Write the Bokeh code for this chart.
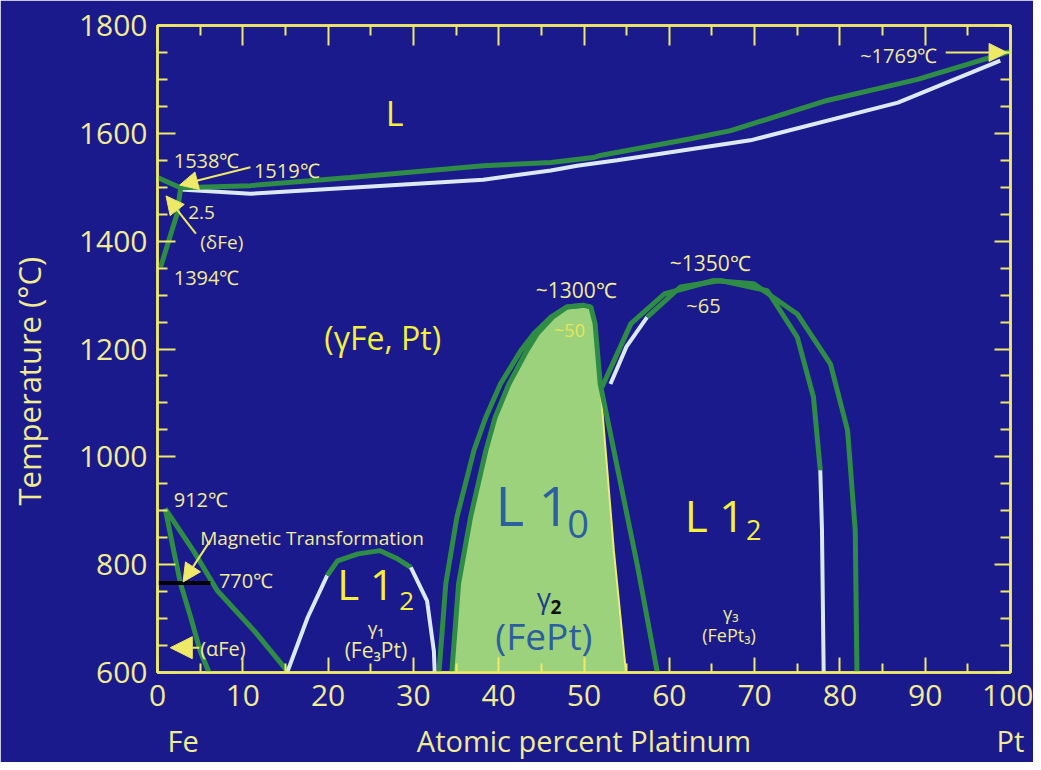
from bokeh.plotting import figure
from bokeh.models import Range1d, FixedTicker, LinearAxis, Label, Arrow, NormalHead
from bokeh.embed import file_html
from bokeh.resources import INLINE

# ---------------- data: atomic % Pt  vs  temperature (°C) ----------------
liquidus_x = [0.0, 2.7, 10.9, 22.6, 38.2, 46.1, 51.1, 51.9, 62.5, 67.2, 78.5, 89.1, 99.6, 100.0]
liquidus_t = [1518, 1499, 1503, 1518, 1540, 1546, 1555, 1559, 1590, 1605, 1661, 1700, 1750, 1752]
solidus_x = [2.7, 10.9, 26.5, 38.2, 46.1, 49.2, 53.9, 69.5, 86.8, 98.8]
solidus_t = [1496, 1488, 1503, 1514, 1531, 1540, 1550, 1587, 1657, 1735]
delta_x = [0.35, 1.4, 2.3, 2.7]
delta_t = [1351, 1405, 1451, 1497]

alpha_left_x = [0.9, 1.9, 2.7, 3.9, 5.0, 6.2]
alpha_left_t = [904, 826, 765, 702, 640, 594]
alpha_right_x = [0.9, 4.2, 7.0, 11.3, 15.2]
alpha_right_t = [904, 826, 752, 678, 603]
magnetic_x = [0.0, 6.2]
magnetic_t = [766, 766]

g1_white_left_x = [15.2, 17.6, 19.9]
g1_white_left_t = [600, 702, 780]
g1_green_x = [19.9, 21.1, 23.5, 26.1, 28.0, 29.7]
g1_green_t = [780, 807, 820, 826, 812, 795]
g1_white_right_x = [29.7, 31.6, 32.4, 32.5]
g1_white_right_t = [795, 733, 640, 600]

l10_outer_x = [33.0, 33.8, 35.1, 37.1, 38.5, 40.2, 42.6, 44.1, 46.1, 48.0, 50.0, 50.8, 51.3, 51.9, 52.7, 54.3, 56.3, 58.6]
l10_outer_t = [600, 765, 888, 1012, 1074, 1135, 1197, 1228, 1259, 1278, 1281, 1278, 1247, 1135, 1074, 950, 795, 600]
l10_inner_x = [34.5, 35.3, 36.7, 38.5, 39.6, 41.2, 43.3, 44.5, 46.3, 48.0, 50.0]
l10_inner_t = [600, 765, 888, 1012, 1074, 1135, 1197, 1228, 1259, 1278, 1281]
l10_top_x = [50.8, 51.3, 51.9]
l10_top_t = [1278, 1247, 1135]
l10_edge_x = [51.9, 53.5, 54.9, 55.0]
l10_edge_t = [1135, 826, 604, 600]

g3_outer_x = [52.1, 55.5, 59.4, 65.2, 69.9, 75.0, 78.9, 80.9, 81.8, 82.0]
g3_outer_t = [1129, 1247, 1302, 1327, 1321, 1265, 1172, 1049, 863, 598]
g3_white_a_x = [53.1, 55.0, 57.4]
g3_white_a_t = [1135, 1205, 1259]
g3_inner_x = [57.4, 61.3, 66.0, 71.5, 75.0, 76.9, 77.7]
g3_inner_t = [1259, 1315, 1327, 1308, 1222, 1111, 975]
g3_white_b_x = [77.7, 77.9, 78.1]
g3_white_b_t = [975, 863, 598]

x_ticks = list(range(0, 101, 10))
x_minor = list(range(5, 100, 10))
y_ticks = list(range(600, 1801, 200))
y_minor = [t for t in range(600, 1801, 50) if t % 200 != 0]
name_ticks = [3, 50, 100]
name_labels = {3: "Fe", 50: "Atomic percent Platinum", 100: "Pt"}
y_title = "Temperature (°C)"

# ---------------- style ----------------
BG = "#1a1a8c"
GREEN = "#2f8c46"
WHITE = "#dce9f2"
FILL = "#9dd27d"
YEL = "#efe968"
TXT = "#f1eb92"
BIG = "#f4f03c"
BLUE_TXT = "#2b5f9e"
FONT = "Open Sans"

p = figure(width=1033, height=762, output_backend="svg", toolbar_location=None,
           x_range=Range1d(0, 100), y_range=Range1d(600, 1800),
           x_axis_location=None, y_axis_location=None,
           min_border_left=157, min_border_right=23, min_border_top=25, min_border_bottom=90)
p.background_fill_color = BG
p.border_fill_color = BG
p.outline_line_color = YEL
p.outline_line_width = 2.5
p.xgrid.grid_line_color = None
p.ygrid.grid_line_color = None


def make_axis(ticks, minor, tin, minin, show_labels, standoff=10):
    ax = LinearAxis(ticker=FixedTicker(ticks=ticks, minor_ticks=minor))
    ax.axis_line_color = YEL
    ax.axis_line_width = 2.5
    ax.major_tick_line_color = YEL
    ax.major_tick_line_width = 2
    ax.minor_tick_line_color = YEL
    ax.minor_tick_line_width = 2
    ax.major_tick_in = tin
    ax.major_tick_out = 0
    ax.minor_tick_in = minin
    ax.minor_tick_out = 0
    if show_labels:
        ax.major_label_text_color = TXT
        ax.major_label_text_font = FONT
        ax.major_label_text_font_size = "30px"
        ax.major_label_standoff = standoff
    else:
        ax.major_label_text_font_size = "0px"
        ax.major_label_standoff = 0
        ax.major_label_text_color = None
    return ax


xb = make_axis(x_ticks, x_minor, 15, 9, True, 12)
p.add_layout(xb, "below")
yl = make_axis(y_ticks, y_minor, 18, 10, True, 10)
# trailing no-break spaces push the centred title towards the bottom, as in the original
yl.axis_label = y_title + "\u00a0" * 8
yl.axis_label_text_font = FONT
yl.axis_label_text_font_size = "31px"
yl.axis_label_text_font_style = "normal"
yl.axis_label_text_color = TXT
yl.axis_label_standoff = 26
p.add_layout(yl, "left")
p.add_layout(make_axis(x_ticks, x_minor, 20, 10, False), "above")
p.add_layout(make_axis(y_ticks, y_minor, 16, 10, False), "right")

names = LinearAxis(ticker=FixedTicker(ticks=name_ticks, minor_ticks=[]))
names.major_label_overrides = name_labels
names.axis_line_color = None
names.major_tick_line_color = None
names.minor_tick_line_color = None
names.major_label_text_color = TXT
names.major_label_text_font = FONT
names.major_label_text_font_size = "29px"
names.major_label_standoff = 6
p.add_layout(names, "below")

# ---------------- L1_0 filled region ----------------
fill_x = l10_inner_x + l10_top_x + l10_edge_x[1:]
fill_t = l10_inner_t + l10_top_t + l10_edge_t[1:]
p.patch(fill_x, fill_t, fill_color=FILL, line_color=None)
p.line(l10_edge_x, l10_edge_t, line_color="#ecec70", line_width=2)

GW = 5
WW = 4
p.line(solidus_x, solidus_t, line_color=WHITE, line_width=WW)
p.line(liquidus_x, liquidus_t, line_color=GREEN, line_width=GW)
p.line(delta_x, delta_t, line_color=GREEN, line_width=GW)
p.line(alpha_left_x, alpha_left_t, line_color=GREEN, line_width=GW)
p.line(alpha_right_x, alpha_right_t, line_color=GREEN, line_width=GW)
p.line(magnetic_x, magnetic_t, line_color="black", line_width=4)
p.line(g1_white_left_x, g1_white_left_t, line_color=WHITE, line_width=WW)
p.line(g1_green_x, g1_green_t, line_color=GREEN, line_width=GW)
p.line(g1_white_right_x, g1_white_right_t, line_color=WHITE, line_width=WW)
p.line(l10_inner_x, l10_inner_t, line_color=GREEN, line_width=GW)
p.line(l10_outer_x, l10_outer_t, line_color=GREEN, line_width=GW)
p.line(g3_white_a_x, g3_white_a_t, line_color=WHITE, line_width=WW)
p.line(g3_inner_x, g3_inner_t, line_color=GREEN, line_width=GW)
p.line(g3_white_b_x, g3_white_b_t, line_color=WHITE, line_width=WW)
p.line(g3_outer_x, g3_outer_t, line_color=GREEN, line_width=GW)


def lab(x, y, text, size, color=TXT, align="center", baseline="middle", style="normal"):
    p.add_layout(Label(x=x, y=y, text=text, text_font=FONT, text_font_size=f"{size}px",
                       text_color=color, text_align=align, text_baseline=baseline,
                       text_font_style=style))


def arrow(x0, y0, x1, y1, size=16):
    p.add_layout(Arrow(end=NormalHead(size=size, fill_color=YEL, line_color=YEL),
                       x_start=x0, y_start=y0, x_end=x1, y_end=y1,
                       line_color=YEL, line_width=2))


lab(27.8, 1637, "L", 34, BIG)
lab(26.4, 1221, "(γFe, Pt)", 32, BIG)

lab(1.9, 1550, "1538℃", 20, align="left")
lab(11.3, 1531, "1519℃", 20, align="left")
lab(3.6, 1453, "2.5", 19, align="left")
lab(5.0, 1398, "(δFe)", 19, align="left")
lab(1.9, 1333, "1394℃", 20, align="left")
arrow(10.9, 1537, 2.6, 1504, 18)
arrow(4.5, 1414, 1.0, 1484, 18)

lab(1.9, 921, "912℃", 20, align="left")
lab(5.0, 850, "Magnetic Transformation", 19, align="left")
lab(7.2, 771, "770℃", 20, align="left")
lab(5.0, 645, "(αFe)", 20, align="left")
arrow(6.2, 845, 3.0, 768, 18)
arrow(4.9, 646, 1.5, 646, 22)

lab(24.4, 765, "L 1", 42, BIG)
lab(29.2, 733, "2", 26, BIG)
lab(25.6, 683, "γ₁", 19)
lab(25.6, 641, "(Fe₃Pt)", 21)

lab(49.1, 1310, "~1300℃", 21)
lab(48.3, 1236, "~50", 18, "#e6e65a")
lab(44.0, 912, "L 1", 55, BLUE_TXT)
lab(49.3, 876, "0", 38, BLUE_TXT)
lab(45.3, 740, "γ", 28, "#1c3f86")
lab(46.7, 721, "2", 19, "#111111", style="bold")
lab(45.3, 669, "(FePt)", 37, BLUE_TXT)

lab(64.8, 1360, "~1350℃", 21)
lab(64.0, 1281, "~65", 20)
lab(65.3, 893, "L 1", 44, BIG)
lab(69.9, 865, "2", 27, BIG)
lab(67.2, 711, "γ₃", 18)
lab(67.0, 669, "(FePt₃)", 18)

lab(86.9, 1744, "~1769℃", 20)
arrow(92.4, 1750, 99.6, 1750, 18)

open("out.html", "w").write(file_html(p, INLINE))
